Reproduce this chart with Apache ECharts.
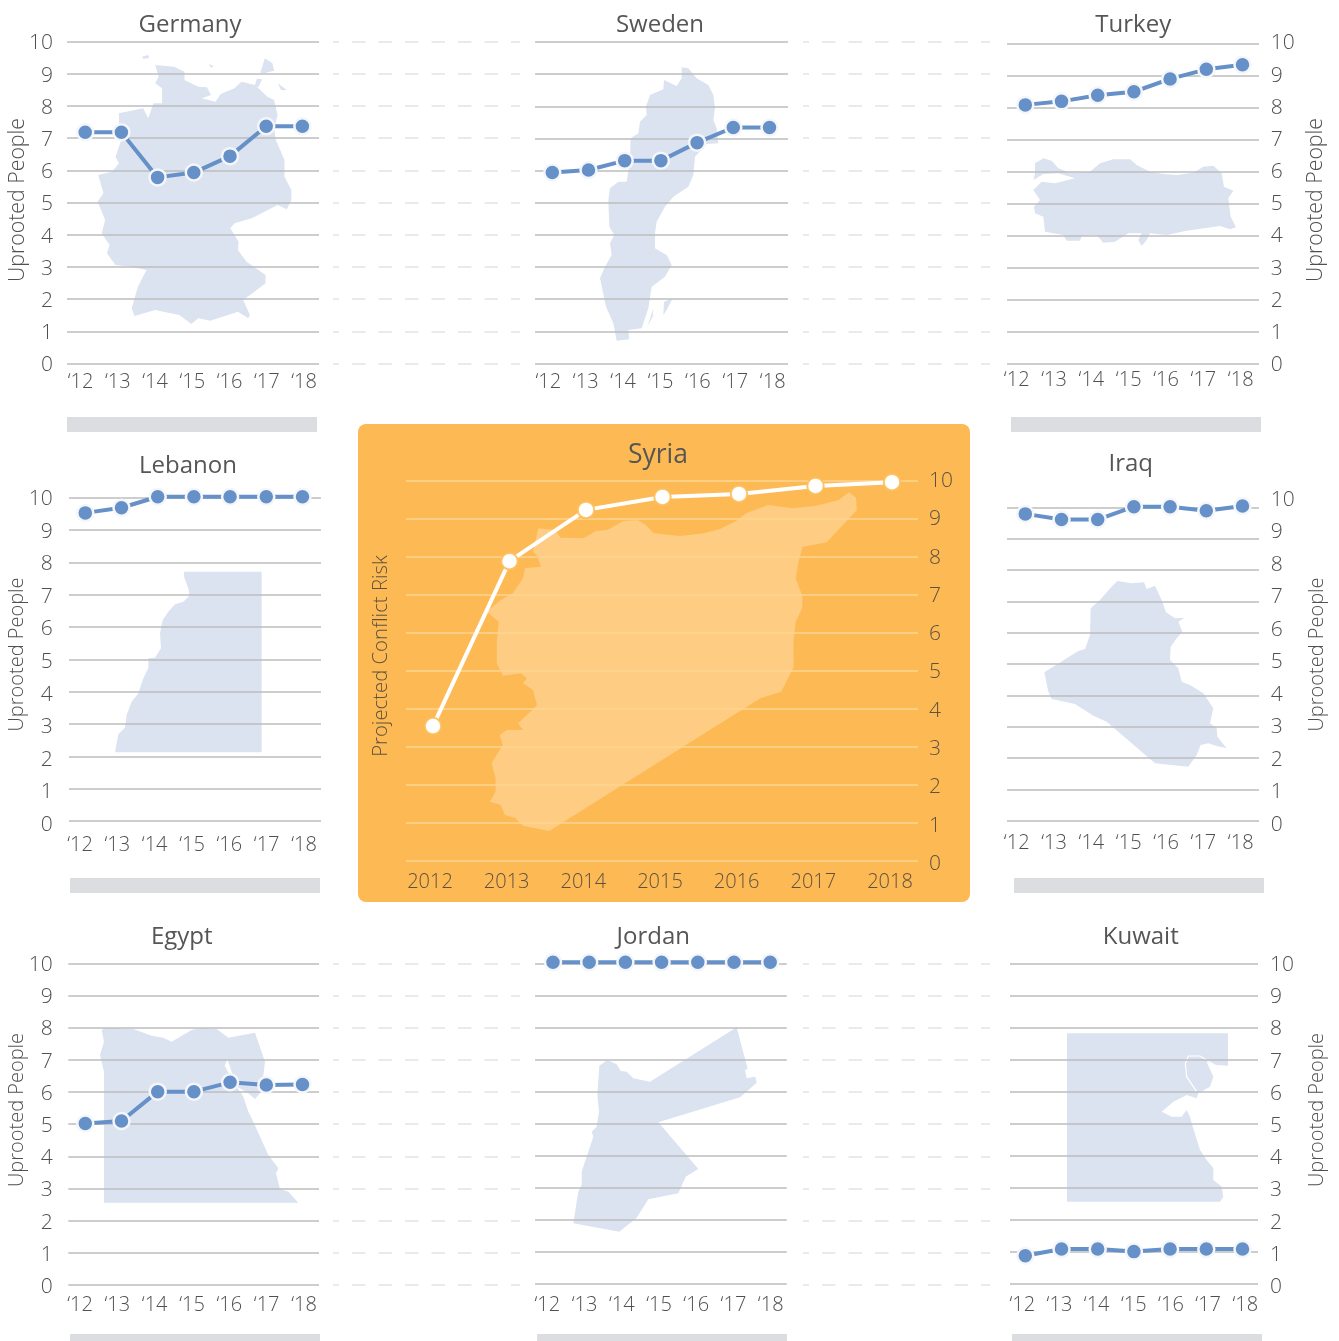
<!DOCTYPE html>
<html>
<head>
<meta charset="utf-8">
<title>Uprooted people and projected conflict risk</title>
<script src="https://cdn.jsdelivr.net/npm/echarts@6/dist/echarts.min.js"></script>
<style>
  html, body { margin: 0; padding: 0; background: #fff; overflow: hidden; }
  #chart { width: 1339px; height: 1341px; }
</style>
</head>
<body>
<div id="chart"></div>
<script>
const years = ['2012', '2013', '2014', '2015', '2016', '2017', '2018'];
const shortYears = ['‘12', '‘13', '‘14', '‘15', '‘16', '‘17', '‘18'];

const germany = [7.18, 7.18, 5.78, 5.93, 6.44, 7.37, 7.37];
const sweden = [5.94, 6.02, 6.31, 6.31, 6.87, 7.34, 7.34];
const turkey = [8.09, 8.2, 8.39, 8.5, 8.9, 9.2, 9.34];
const lebanon = [9.53, 9.69, 10.03, 10.03, 10.03, 10.03, 10.03];
const syria = [3.55, 7.89, 9.24, 9.58, 9.66, 9.87, 9.97];
const iraq = [9.79, 9.61, 9.61, 10.02, 10.02, 9.89, 10.04];
const egypt = [5.02, 5.1, 6.01, 6.01, 6.3, 6.22, 6.23];
const jordan = [10.03, 10.03, 10.03, 10.03, 10.03, 10.03, 10.03];
const kuwait = [0.88, 1.09, 1.09, 1.01, 1.09, 1.09, 1.09];

const germanyShape = [[450,195],[505,200],[535,215],[535,240],[575,260],[600,262],[612,285],[585,295],[625,305],[640,282],[680,265],[700,245],[740,255],[775,290],[795,300],[805,345],[795,385],[800,420],[825,480],[825,530],[845,570],[845,600],[832,628],[805,615],[730,655],[680,670],[668,685],[692,725],[690,750],[715,785],[770,825],[770,850],[725,885],[705,900],[725,945],[720,955],[690,935],[610,962],[575,955],[555,972],[520,945],[450,930],[390,948],[382,925],[400,860],[425,810],[380,800],[335,795],[310,760],[318,735],[295,700],[305,660],[283,605],[300,580],[285,525],[325,515],[345,490],[335,470],[355,410],[345,380],[345,340],[415,325],[430,355],[445,310],[470,310],[470,265],[450,250],[460,230]];
const germanyIslands = [[[755,218],[768,175],[790,190],[795,212],[765,220]], [[738,260],[745,236],[760,238],[750,260]], [[805,250],[832,270],[815,270]], [[412,170],[430,165],[432,174],[415,176]], [[605,192],[620,198],[612,203]]];
const swedenShape = [[485,202],[505,205],[530,235],[565,255],[580,285],[585,325],[580,360],[590,385],[595,430],[560,432],[525,470],[520,525],[505,560],[460,590],[435,620],[410,665],[405,700],[405,745],[440,765],[455,795],[435,830],[395,860],[385,925],[365,985],[325,990],[328,1018],[290,1022],[280,970],[258,920],[240,835],[255,800],[275,765],[270,730],[283,705],[268,680],[265,600],[270,565],[295,545],[320,545],[330,480],[332,415],[355,400],[360,365],[380,345],[378,320],[390,285],[430,268],[432,240],[470,258],[485,235]];
const swedenIslands = [[[430,945],[432,905],[458,895],[440,930]], [[382,980],[400,925],[398,950]]];
const turkeyShape = [[105,490],[130,475],[155,482],[175,505],[210,518],[270,515],[300,490],[340,478],[390,478],[410,495],[450,515],[490,522],[530,525],[580,518],[610,500],[640,497],[665,520],[672,560],[700,572],[685,595],[692,650],[708,682],[690,688],[660,678],[560,692],[500,705],[450,700],[440,720],[425,738],[415,720],[425,700],[385,700],[345,725],[310,728],[290,705],[245,708],[240,722],[200,722],[190,705],[135,695],[130,650],[105,640],[102,620],[120,600],[100,570],[125,545],[165,550],[225,535],[175,520],[130,522],[100,540],[105,520]];
const lebanonShape = [[552,380],[785,380],[785,922],[345,922],[355,868],[375,848],[380,810],[395,770],[415,745],[430,700],[445,670],[445,640],[465,638],[483,610],[480,565],[488,525],[505,500],[525,478],[550,470],[568,452],[565,430],[552,395]];
const syriaShape = [[468,340],[510,345],[523,368],[580,370],[612,348],[640,345],[680,318],[715,316],[735,330],[755,355],[820,363],[880,355],[920,342],[960,318],[985,295],[1040,270],[1100,280],[1160,272],[1215,255],[1240,232],[1258,248],[1260,285],[1185,382],[1125,396],[1115,440],[1108,490],[1125,545],[1124,580],[1108,620],[1102,680],[1103,755],[1072,830],[1020,850],[495,1248],[430,1232],[410,1208],[385,1200],[375,1170],[348,1160],[362,1130],[362,1090],[352,1045],[372,1005],[380,990],[372,960],[390,945],[430,945],[418,925],[440,900],[465,870],[455,825],[430,805],[440,790],[425,775],[380,782],[365,745],[365,680],[370,620],[340,590],[375,555],[405,535],[430,490],[435,460],[475,455],[465,420],[455,410]];
const iraqShape = [[352,408],[395,415],[432,412],[440,432],[465,422],[485,465],[498,502],[525,520],[553,518],[535,530],[547,560],[530,580],[512,605],[510,645],[535,670],[545,710],[570,720],[610,745],[640,790],[630,835],[650,850],[652,875],[680,910],[650,903],[625,895],[602,900],[590,930],[565,965],[465,955],[320,830],[280,812],[225,777],[155,762],[145,740],[133,682],[235,618],[255,612],[270,570],[272,490],[300,465],[332,428]];
const egyptShape = [[318,338],[400,342],[455,362],[490,368],[515,380],[575,345],[610,338],[650,342],[685,368],[765,353],[795,440],[790,480],[780,535],[765,552],[745,535],[712,515],[695,470],[682,432],[674,452],[700,500],[730,545],[745,590],[755,610],[805,720],[835,760],[828,775],[840,822],[865,830],[895,863],[312,863],[312,470],[300,420],[312,380],[305,345]];
const jordanShape = [[238,452],[262,435],[290,448],[302,468],[320,470],[340,490],[390,500],[650,337],[683,462],[675,465],[680,490],[706,485],[710,503],[660,547],[415,622],[535,762],[497,785],[475,835],[385,853],[350,908],[298,950],[160,925],[170,860],[175,830],[185,810],[185,770],[205,710],[220,665],[215,650],[230,635],[237,590],[232,540]];
const kuwaitShape = [[201,340],[684,340],[684,437],[650,435],[620,425],[640,470],[630,500],[595,520],[590,535],[560,525],[520,545],[485,575],[515,590],[545,590],[560,570],[570,590],[575,610],[600,690],[620,720],[640,745],[640,780],[665,800],[670,830],[660,845],[201,845]];
const kuwaitCoast = [[640,432],[600,408],[565,408],[556,430],[560,470],[590,515]];

const MAP_BLUE = '#dbe3f0';
const GRID_GREY = '#bdbdbd';
const TEXT_GREY = '#505050';
const FONT = '"Open Sans", sans-serif';
const LIGHT = 300;

// plot: box of the grid lines; first: centre of the first mark; lab: span of the tick labels
const panels = [
  { title: 'Germany', tx: 190, ty: 25, values: germany, plot: [67, 319, 41.5, 363.5], first: 85.2, lab: [80.5, 304, 41.5, 363.5], xLabY: 380, yLab: ['left', 53], name: [18, 200, 21.3] },
  { title: 'Sweden', tx: 660, ty: 25, values: sweden, plot: [535, 788, 42, 363.5], first: 552.3, lab: [548.3, 772.7, 42, 363.5], xLabY: 380 },
  { title: 'Turkey', tx: 1133.3, ty: 25, values: turkey, plot: [1007, 1259, 43.7, 364], first: 1025.3, lab: [1016.7, 1240.7, 41.5, 363], xLabY: 378, yLab: ['right', 1270.7], name: [1316, 200, 21.3] },
  { title: 'Lebanon', tx: 188, ty: 466, values: lebanon, plot: [69, 321, 497.7, 821], first: 85.3, lab: [80, 304, 497, 823], xLabY: 843, yLab: ['left', 52.7], name: [17, 654.5, 20] },
  { title: 'Iraq', tx: 1130.7, ty: 464, values: iraq, plot: [1007, 1259, 507.3, 820.7], first: 1025.3, lab: [1016.7, 1240.7, 498, 823], xLabY: 841, yLab: ['right', 1270.7], name: [1317, 654.5, 20] },
  { title: 'Egypt', tx: 181.7, ty: 937.5, values: egypt, plot: [68.3, 319, 963.3, 1285], first: 85.3, lab: [80, 304, 963, 1285], xLabY: 1303, yLab: ['left', 52.7], name: [17, 1110, 20] },
  { title: 'Jordan', tx: 653.3, ty: 937, values: jordan, plot: [535, 786.7, 963.3, 1284], first: 553, lab: [547.3, 770.7, 963.3, 1284], xLabY: 1303 },
  { title: 'Kuwait', tx: 1140.7, ty: 937, values: kuwait, plot: [1010, 1258, 963.3, 1284], first: 1025.3, lab: [1022.3, 1245.3, 963, 1285], xLabY: 1303, yLab: ['right', 1270], name: [1317, 1110, 20] },
  { title: 'Syria', tx: 658, ty: 455, titleSize: 26.5, values: syria, plot: [406, 918, 481, 861], first: 433, step: 76.5, lab: [430, 890, 479, 862], xLabY: 880, yLab: ['right', 929], labels: years, highlight: true, name: [381, 656, 20.3, 'Projected Conflict Risk'] }
];

const dashBlocks = [
  [333, 520, 41.5, 363.5], [803, 990, 41.5, 363.5],
  [333, 520, 963.3, 1285], [803, 990, 963.3, 1285]
];

const greyBars = [
  [67, 417, 250, 15], [1011, 417, 250, 15],
  [70, 878, 250, 15], [1014, 878, 250, 15],
  [70, 1334, 250, 7], [537, 1334, 250, 7], [1012, 1334, 250, 7]
];

const grids = [], xAxes = [], yAxes = [], series = [], titles = [], graphics = [];

function rect(l, r, t, b) {
  return { left: l, top: t, width: r - l, height: b - t, containLabel: false };
}

function addGrid(box, xAxis, yAxis) {
  grids.push(box);
  const idx = grids.length - 1;
  xAxes.push(Object.assign({ gridIndex: idx, type: 'category', data: years, show: false }, xAxis));
  yAxes.push(Object.assign({ gridIndex: idx, type: 'value', min: 0, max: 10, interval: 1, show: false }, yAxis));
  return idx;
}

function hiddenAxis() {
  return { axisLine: { show: false }, axisTick: { show: false }, axisLabel: { show: false } };
}

function addShape(points, ox, oy, sx, sy, fill) {
  graphics.push({
    type: 'polygon', z: 1, silent: true,
    shape: { points: points.map(p => [ox + p[0] / sx, oy + p[1] / sy]) },
    style: { fill: fill }
  });
}

function addPanel(p) {
  const textColor = p.highlight ? '#5e5240' : TEXT_GREY;
  const [l, r, t, b] = p.plot;
  const step = p.step || 36.2;

  // grid lines
  addGrid(rect(l, r, t, b), {}, Object.assign(hiddenAxis(), {
    show: true, z: 3,
    splitLine: { show: true, lineStyle: { color: p.highlight ? '#fed592' : GRID_GREY, width: 1.5 } }
  }));

  // marks
  const markGrid = addGrid(rect(p.first - step / 2, p.first + step * 6.5, t, b), {}, {});
  series.push({
    type: 'line', xAxisIndex: markGrid, yAxisIndex: markGrid, data: p.values, clip: false, z: 5,
    symbol: 'circle', symbolSize: p.highlight ? 16.5 : 16, animation: false, silent: true,
    lineStyle: { color: p.highlight ? '#fff' : '#6690c8', width: 4 },
    itemStyle: {
      color: p.highlight ? '#fff' : '#6690c8',
      borderColor: p.highlight ? 'rgba(253,190,90,0.9)' : '#f4f6fa',
      borderWidth: p.highlight ? 2 : 2.5
    }
  });

  // tick labels sit on their own slightly different spans
  const [ll, lr, lt, lb] = p.lab;
  const half = (lr - ll) / 12;
  const labBox = rect(ll - half, lr + half, lt + 2, lb + 2);
  const yLab = p.yLab;
  addGrid(labBox, {
    show: true, data: p.labels || shortYears,
    axisLine: { show: false }, axisTick: { show: false },
    axisLabel: {
      show: true, interval: 0, color: textColor, fontFamily: FONT, fontSize: 20, fontWeight: LIGHT,
      margin: p.xLabY - lb, verticalAlign: 'middle'
    }
  }, yLab ? {
    show: true, position: yLab[0],
    axisLine: { show: false }, axisTick: { show: false }, splitLine: { show: false },
    axisLabel: {
      show: true, color: textColor, fontFamily: FONT, fontSize: 21, fontWeight: LIGHT,
      margin: yLab[0] === 'left' ? ll - half - yLab[1] : yLab[1] - (lr + half)
    }
  } : { splitLine: { show: false } });

  titles.push({
    text: p.title, left: p.tx, top: p.ty, textAlign: 'center', textVerticalAlign: 'middle', padding: 0,
    textStyle: { color: '#565656', fontFamily: FONT, fontWeight: 'normal', fontSize: p.titleSize || 24 }
  });

  if (p.name) {
    graphics.push({
      type: 'text', z: 4, silent: true, x: p.name[0], y: p.name[1], rotation: Math.PI / 2,
      style: {
        text: p.name[3] || 'Uprooted People', fill: textColor, font: LIGHT + ' ' + p.name[2] + 'px ' + FONT,
        align: 'center', verticalAlign: 'middle'
      }
    });
  }
}

// pale dashed continuation of the grid lines between the charts
dashBlocks.forEach(d => {
  addGrid(rect(d[0], d[1], d[2], d[3]), {}, Object.assign(hiddenAxis(), {
    show: true,
    splitLine: { show: true, lineStyle: { color: '#e4e4e4', width: 1.5, type: [13.5, 13], dashOffset: 7.5 } }
  }));
});

greyBars.forEach(b => {
  graphics.push({ type: 'rect', z: 0, silent: true, shape: { x: b[0], y: b[1], width: b[2], height: b[3] }, style: { fill: '#dcdde0' } });
});

graphics.push({ type: 'rect', z: 0, silent: true, shape: { x: 358, y: 424, width: 612, height: 478, r: 8 }, style: { fill: '#fdba54' } });

addShape(germanyShape, 0, 0, 2.9, 3, MAP_BLUE);
germanyIslands.forEach(s => addShape(s, 0, 0, 2.9, 3, MAP_BLUE));
addShape(swedenShape, 520, 0, 3, 3, MAP_BLUE);
swedenIslands.forEach(s => addShape(s, 520, 0, 3, 3, MAP_BLUE));
addShape(turkeyShape, 1000, 0, 3, 3, MAP_BLUE);
addShape(lebanonShape, 0, 445, 3, 3, MAP_BLUE);
addShape(syriaShape, 350, 415, 2.486, 3, '#fecd83');
addShape(iraqShape, 1000, 445, 3, 3, MAP_BLUE);
addShape(egyptShape, 0, 915, 3, 3, MAP_BLUE);
addShape(jordanShape, 520, 915, 3, 3, MAP_BLUE);
addShape(kuwaitShape, 1000, 920, 3, 3, MAP_BLUE);
graphics.push({
  type: 'polyline', z: 1, silent: true,
  shape: { points: kuwaitCoast.map(p => [1000 + p[0] / 3, 920 + p[1] / 3]) },
  style: { stroke: '#fff', lineWidth: 1.2, fill: null }
});

panels.forEach(addPanel);

const chart = echarts.init(document.getElementById('chart'), null, { renderer: 'canvas' });
chart.setOption({
  animation: false,
  backgroundColor: '#fff',
  title: titles,
  grid: grids,
  xAxis: xAxes,
  yAxis: yAxes,
  series: series,
  graphic: { elements: graphics }
});
</script>
</body>
</html>
